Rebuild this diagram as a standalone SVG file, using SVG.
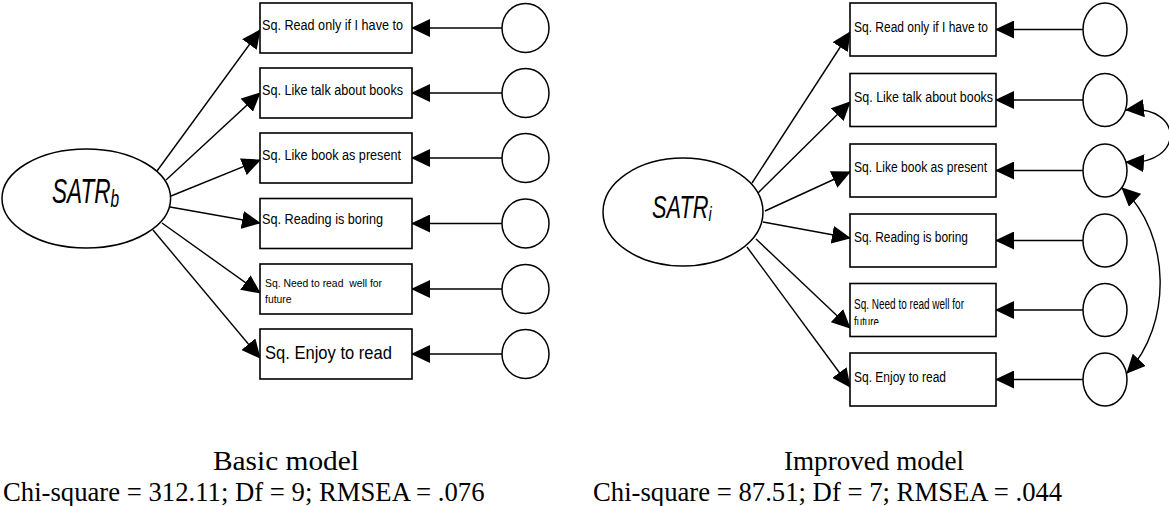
<svg xmlns="http://www.w3.org/2000/svg" width="1169" height="506" viewBox="0 0 1169 506">
<defs>
<marker id="ah" markerUnits="userSpaceOnUse" markerWidth="19" markerHeight="18" viewBox="0 0 19 18" refX="18" refY="9" orient="auto-start-reverse">
<path d="M0,0 L19,9 L0,18 z" fill="#000"/>
</marker>
<clipPath id="clipFut"><rect x="850" y="283" width="146" height="42"/></clipPath>
<style>
.box{fill:#fff;stroke:#000;stroke-width:1.6}
.err{fill:#fff;stroke:#000;stroke-width:1.5}
.lat{fill:#fff;stroke:#000;stroke-width:1.5}
.con{fill:none;stroke:#000;stroke-width:1.4;marker-end:url(#ah)}
.cov{fill:none;stroke:#000;stroke-width:1.4;marker-start:url(#ah);marker-end:url(#ah)}
.t{font-family:"Liberation Sans",Arial,sans-serif;fill:#000}
.lat-t{font-family:"Liberation Sans",Arial,sans-serif;font-style:italic;fill:#000}
.cap{font-family:"Liberation Serif","Times New Roman",serif;font-size:26.7px;fill:#000}
.ttl{font-family:"Liberation Serif","Times New Roman",serif;font-size:27.5px;fill:#000}
</style>
</defs>
<rect width="1169" height="506" fill="#fff"/>

<g id="connectors">
<!-- left model loadings -->
<path class="con" d="M157,171 L260,30"/>
<path class="con" d="M166,180 L260,93"/>
<path class="con" d="M171,196 L260,160"/>
<path class="con" d="M170,207 L260,223"/>
<path class="con" d="M162,223 L260,293"/>
<path class="con" d="M153,230 L260,358"/>
<!-- left errors -->
<path class="con" d="M502,28 L412,28"/>
<path class="con" d="M502,93 L412,93"/>
<path class="con" d="M502,158 L412,158"/>
<path class="con" d="M502,223.5 L412,223.5"/>
<path class="con" d="M502,289 L412,289"/>
<path class="con" d="M502,354 L412,354"/>
<!-- right model loadings -->
<path class="con" d="M752,183 L850,32"/>
<path class="con" d="M758,193 L850,102"/>
<path class="con" d="M765,211 L850,172"/>
<path class="con" d="M763,222 L850,238"/>
<path class="con" d="M756,239 L850,328"/>
<path class="con" d="M747,247 L850,387"/>
<!-- right errors -->
<path class="con" d="M1083,29.5 L996,29.5"/>
<path class="con" d="M1083,100 L996,100"/>
<path class="con" d="M1083,170.5 L996,170.5"/>
<path class="con" d="M1083,240.5 L996,240.5"/>
<path class="con" d="M1083,310 L996,310"/>
<path class="con" d="M1083,379.5 L996,379.5"/>
<!-- covariances -->
<path class="cov" d="M1126,110 C1185,104 1185,166 1126,162"/>
<path class="cov" d="M1122,188 C1172,235 1172,325 1127,373"/>
</g>

<!-- LEFT MODEL -->
<g id="latent-b">
<ellipse class="lat" cx="86.3" cy="198.5" rx="84.3" ry="49.5"/>
<text class="lat-t" transform="translate(52,203) scale(0.645,1)" font-size="35">SATR<tspan font-size="24" dy="4">b</tspan></text>
</g>

<g id="b-item1"><rect class="box" x="260" y="3" width="152" height="50"/>
<text class="t" x="262" y="30" font-size="14" textLength="141" lengthAdjust="spacingAndGlyphs">Sq. Read only if I have to</text></g>
<g id="b-item2"><rect class="box" x="260" y="68" width="152" height="50"/>
<text class="t" x="262" y="95" font-size="14" textLength="141" lengthAdjust="spacingAndGlyphs">Sq. Like talk about books</text></g>
<g id="b-item3"><rect class="box" x="260" y="133" width="152" height="50"/>
<text class="t" x="262" y="160" font-size="14" textLength="139" lengthAdjust="spacingAndGlyphs">Sq. Like book as present</text></g>
<g id="b-item4"><rect class="box" x="260" y="198.5" width="152" height="50"/>
<text class="t" x="262" y="224" font-size="14" textLength="121" lengthAdjust="spacingAndGlyphs">Sq. Reading is boring</text></g>
<g id="b-item5"><rect class="box" x="260" y="264" width="152" height="50"/>
<text class="t" x="265" y="287" font-size="11.5" textLength="117" lengthAdjust="spacingAndGlyphs" xml:space="preserve">Sq. Need to read  well for</text>
<text class="t" x="265" y="303" font-size="11.5" textLength="26.5" lengthAdjust="spacingAndGlyphs">future</text></g>
<g id="b-item6"><rect class="box" x="260" y="329" width="152" height="50"/>
<text class="t" x="265" y="359" font-size="19" textLength="127" lengthAdjust="spacingAndGlyphs">Sq. Enjoy to read</text></g>

<g id="b-err1"><ellipse class="err" cx="525.5" cy="28" rx="23.5" ry="24.5"/></g>
<g id="b-err2"><ellipse class="err" cx="525.5" cy="93" rx="23.5" ry="24.5"/></g>
<g id="b-err3"><ellipse class="err" cx="525.5" cy="158" rx="23.5" ry="24.5"/></g>
<g id="b-err4"><ellipse class="err" cx="525.5" cy="223.5" rx="23.5" ry="24.5"/></g>
<g id="b-err5"><ellipse class="err" cx="525.5" cy="289" rx="23.5" ry="24.5"/></g>
<g id="b-err6"><ellipse class="err" cx="525.5" cy="354" rx="23.5" ry="24.5"/></g>

<!-- RIGHT MODEL -->
<g id="latent-i">
<ellipse class="lat" cx="683" cy="212" rx="80" ry="54"/>
<text class="lat-t" transform="translate(652,218) scale(0.68,1)" font-size="32">SATR<tspan font-size="21" dy="3">i</tspan></text>
</g>

<g id="i-item1"><rect class="box" x="850" y="3" width="146" height="53"/>
<text class="t" x="854" y="32" font-size="15.5" textLength="134" lengthAdjust="spacingAndGlyphs">Sq. Read only if I have to</text></g>
<g id="i-item2"><rect class="box" x="850" y="73.5" width="146" height="53"/>
<text class="t" x="854" y="102" font-size="15.5" textLength="139" lengthAdjust="spacingAndGlyphs">Sq. Like talk about books</text></g>
<g id="i-item3"><rect class="box" x="850" y="144" width="146" height="53"/>
<text class="t" x="854" y="172" font-size="15.5" textLength="133" lengthAdjust="spacingAndGlyphs">Sq. Like book as present</text></g>
<g id="i-item4"><rect class="box" x="850" y="214" width="146" height="53"/>
<text class="t" x="854" y="242" font-size="15.5" textLength="114" lengthAdjust="spacingAndGlyphs">Sq. Reading is boring</text></g>
<g id="i-item5"><rect class="box" x="850" y="283.5" width="146" height="53"/>
<text class="t" x="854" y="309" font-size="14" textLength="110" lengthAdjust="spacingAndGlyphs">Sq. Need to read well for</text>
<text class="t" x="854" y="327" font-size="14" textLength="25" lengthAdjust="spacingAndGlyphs" clip-path="url(#clipFut)">future</text></g>
<g id="i-item6"><rect class="box" x="850" y="353" width="146" height="53"/>
<text class="t" x="854" y="382" font-size="15.5" textLength="92" lengthAdjust="spacingAndGlyphs">Sq. Enjoy to read</text></g>

<g id="i-err1"><ellipse class="err" cx="1105" cy="29.5" rx="22" ry="26.5"/></g>
<g id="i-err2"><ellipse class="err" cx="1105" cy="100" rx="22" ry="26.5"/></g>
<g id="i-err3"><ellipse class="err" cx="1105" cy="170.5" rx="22" ry="26.5"/></g>
<g id="i-err4"><ellipse class="err" cx="1105" cy="240.5" rx="22" ry="26.5"/></g>
<g id="i-err5"><ellipse class="err" cx="1105" cy="310" rx="22" ry="26.5"/></g>
<g id="i-err6"><ellipse class="err" cx="1105" cy="379.5" rx="22" ry="26.5"/></g>

<!-- captions -->
<g id="caption-basic">
<text class="ttl" x="213" y="470" textLength="146" lengthAdjust="spacingAndGlyphs">Basic model</text>
<text class="cap" x="3" y="501">Chi-square = 312.11; Df = 9; RMSEA = .076</text>
</g>
<g id="caption-improved">
<text class="ttl" x="784" y="470" textLength="180" lengthAdjust="spacingAndGlyphs">Improved model</text>
<text class="cap" x="593" y="501">Chi-square = 87.51; Df = 7; RMSEA = .044</text>
</g>
</svg>
